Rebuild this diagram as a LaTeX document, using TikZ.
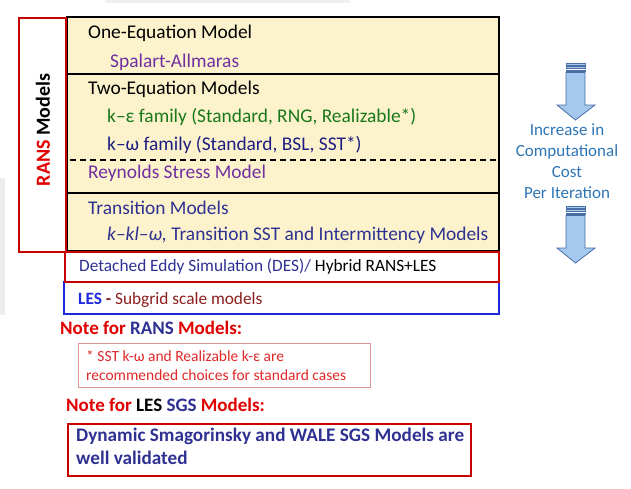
\documentclass[tikz,border=0pt]{standalone}
\usepackage{fontspec}
\setmainfont{Carlito}
\definecolor{cream}{RGB}{252,243,204}
\definecolor{mypurple}{RGB}{112,48,160}
\definecolor{mygreen}{RGB}{25,120,25}
\definecolor{mynavy}{RGB}{30,30,130}
\definecolor{myblue}{RGB}{46,49,146}
\definecolor{skyblue}{RGB}{46,117,182}
\definecolor{myred}{RGB}{224,0,0}
\definecolor{boxred}{RGB}{200,0,0}
\definecolor{pinkred}{RGB}{217,150,148}
\definecolor{notered}{RGB}{224,40,40}
\definecolor{lesblue}{RGB}{30,40,220}
\definecolor{maroon}{RGB}{140,30,30}
\definecolor{arrfill}{RGB}{164,200,238}
\definecolor{arrline}{RGB}{74,111,165}
\begin{document}
\begin{tikzpicture}[x=1pt,y=-1pt,
  txt/.style={anchor=west, inner sep=0pt, font=\fontsize{19.4}{22}\selectfont},
  mid/.style={anchor=west, inner sep=0pt, font=\fontsize{17.3}{20}\selectfont},
  sml/.style={anchor=west, inner sep=0pt, font=\fontsize{15.5}{18}\selectfont},
  bld/.style={anchor=west, inner sep=0pt, font=\fontsize{19}{22}\selectfont\bfseries},
  boxnode/.style={anchor=north west, inner sep=0pt, outer sep=0pt},
  arrst/.style={fill=arrfill, draw=arrline, line width=0.8pt, line join=miter}]
\useasboundingbox (0,0) rectangle (631,488);
% faint background strips
\fill[gray!14] (0,178) rectangle (5,315);
\fill[gray!12] (105,0) rectangle (350,3);
% main yellow box
\node[boxnode, fill=cream, draw=black, line width=2pt, minimum width=432pt, minimum height=234pt] (main) at (67,17) {};
\draw[line width=2pt] (67,74) -- (499,74);
\draw[line width=1.5pt, dashed, dash pattern=on 6pt off 4pt] (70,160) -- (497,160);
\draw[line width=2pt] (67,193) -- (499,193);
% LES and DES boxes
\node[boxnode, draw=lesblue, line width=1.5pt, minimum width=435pt, minimum height=32pt] (lesbox) at (64,282) {};
\node[boxnode, draw=boxred, line width=1.5pt, minimum width=434pt, minimum height=30pt] (desbox) at (65,252) {};
% RANS box
\node[boxnode, draw=boxred, line width=1.5pt, minimum width=47pt, minimum height=234pt] (ransbox) at (19,18) {};
\node[rotate=90, inner sep=0pt, font=\fontsize{20}{22}\selectfont\bfseries] (ranslbl) at (43,130) {\textcolor{myred}{RANS} Models};
% texts in main box
\node[txt] (t1) at (88,33) {One-Equation Model};
\node[txt, text=mypurple] (t2) at (110,62) {Spalart-Allmaras};
\node[txt] (t3) at (88,89) {Two-Equation Models};
\node[txt, text=mygreen] (t4) at (107,117) {k–ε family (Standard, RNG, Realizable*)};
\node[txt, text=mynavy] (t5) at (107,145) {k–ω family (Standard, BSL, SST*)};
\node[txt, text=mypurple] (t6) at (88,173) {Reynolds Stress Model};
\node[txt, text=myblue] (t7) at (88,208) {Transition Models};
\node[txt, text=myblue] (t8) at (107,235) {\textit{k–kl–ω,} Transition SST and Intermittency Models};
% DES / LES texts
\node[mid] (des) at (79,267) {\textcolor{myblue}{Detached Eddy Simulation (DES)/} Hybrid RANS+LES};
\node[mid] (les) at (78,300) {\textcolor{lesblue}{\bfseries LES} \textcolor{maroon}{\bfseries -} \textcolor{maroon}{Subgrid scale models}};
% notes
\node[bld, text=myred] (n1) at (60,328) {Note for \textcolor{myblue}{RANS} Models:};
\node[boxnode, draw=pinkred, line width=1pt, minimum width=292pt, minimum height=44pt] (nbox1) at (78,343) {};
\node[sml, text=notered] (n1a) at (86,356) {* SST k-ω and Realizable k-ε are};
\node[sml, text=notered] (n1b) at (86,375) {recommended choices for standard cases};
\node[bld, text=myred] (n2) at (66,405) {Note for \textcolor{black}{LES} \textcolor{myblue}{SGS} Models:};
\node[boxnode, draw=boxred, line width=2pt, minimum width=403pt, minimum height=52pt] (nbox2) at (68,424) {};
\node[bld, text=myblue, font=\fontsize{19.2}{22}\selectfont\bfseries] (n2a) at (76,436) {Dynamic Smagorinsky and WALE SGS Models are};
\node[bld, text=myblue, font=\fontsize{19.2}{22}\selectfont\bfseries] (n2b) at (76,458) {well validated};
% right side text
\node[align=center, inner sep=0pt, text=skyblue, font=\fontsize{17}{21}\selectfont] (cost) at (567,161.5) {Increase in\\Computational\\Cost\\Per Iteration};
% striped arrows
\foreach \t in {63,206}{
  \draw[arrst] (566,\t) rectangle (585,\t+2);
  \draw[arrst] (566,\t+3.5) rectangle (585,\t+5.5);
  \draw[arrst] (566,\t+7) rectangle (585,\t+8.5);
  \draw[arrst] (566,\t+9.5) -- (585,\t+9.5) -- (585,\t+42) -- (595,\t+42) -- (575.5,\t+57) -- (557,\t+42) -- (566,\t+42) -- cycle;
}
\end{tikzpicture}
\end{document}
